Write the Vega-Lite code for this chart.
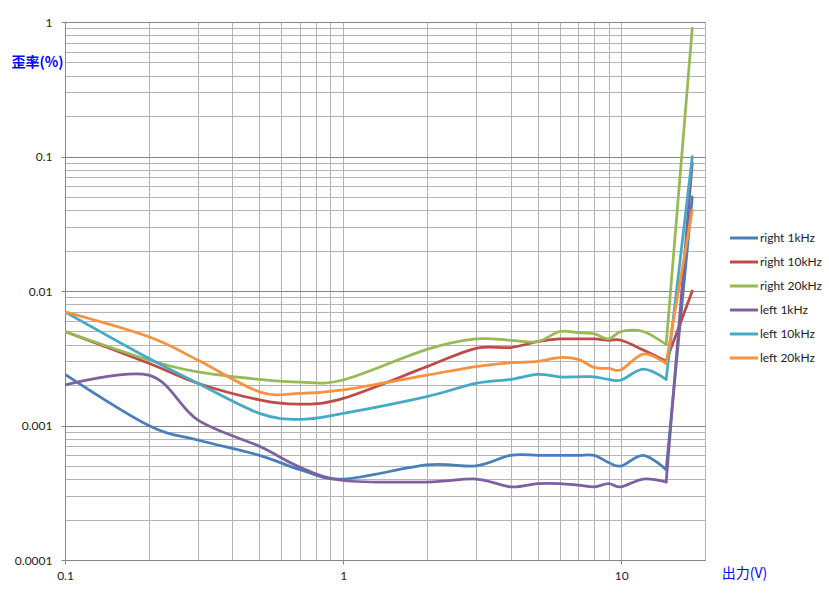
{
  "$schema": "https://vega.github.io/schema/vega-lite/v6.json",
  "width": 640,
  "height": 538,
  "autosize": {"type": "none"},
  "padding": {"left": 65, "top": 22, "right": 124, "bottom": 43},
  "background": "white",
  "config": {"view": {"stroke": null}, "font": "Lato"},
  "data": {
    "values": [
      {"ch": "right 1kHz", "V": 0.1, "THD": 0.0024},
      {"ch": "right 1kHz", "V": 0.2, "THD": 0.001},
      {"ch": "right 1kHz", "V": 0.3, "THD": 0.00078},
      {"ch": "right 1kHz", "V": 0.5, "THD": 0.0006},
      {"ch": "right 1kHz", "V": 0.7, "THD": 0.00047},
      {"ch": "right 1kHz", "V": 1, "THD": 0.0004},
      {"ch": "right 1kHz", "V": 2, "THD": 0.00051},
      {"ch": "right 1kHz", "V": 3, "THD": 0.0005},
      {"ch": "right 1kHz", "V": 4, "THD": 0.0006},
      {"ch": "right 1kHz", "V": 5, "THD": 0.0006},
      {"ch": "right 1kHz", "V": 6, "THD": 0.0006},
      {"ch": "right 1kHz", "V": 7, "THD": 0.0006},
      {"ch": "right 1kHz", "V": 8, "THD": 0.0006},
      {"ch": "right 1kHz", "V": 9, "THD": 0.00053},
      {"ch": "right 1kHz", "V": 10, "THD": 0.0005},
      {"ch": "right 1kHz", "V": 12, "THD": 0.0006},
      {"ch": "right 1kHz", "V": 14.5, "THD": 0.00047},
      {"ch": "right 1kHz", "V": 18, "THD": 0.05},

      {"ch": "right 10kHz", "V": 0.1, "THD": 0.005},
      {"ch": "right 10kHz", "V": 0.2, "THD": 0.0029},
      {"ch": "right 10kHz", "V": 0.3, "THD": 0.00206},
      {"ch": "right 10kHz", "V": 0.5, "THD": 0.00155},
      {"ch": "right 10kHz", "V": 0.7, "THD": 0.00144},
      {"ch": "right 10kHz", "V": 1, "THD": 0.00159},
      {"ch": "right 10kHz", "V": 2, "THD": 0.00274},
      {"ch": "right 10kHz", "V": 3, "THD": 0.00375},
      {"ch": "right 10kHz", "V": 4, "THD": 0.0038},
      {"ch": "right 10kHz", "V": 5, "THD": 0.0042},
      {"ch": "right 10kHz", "V": 6, "THD": 0.0044},
      {"ch": "right 10kHz", "V": 7, "THD": 0.0044},
      {"ch": "right 10kHz", "V": 8, "THD": 0.0044},
      {"ch": "right 10kHz", "V": 9, "THD": 0.0043},
      {"ch": "right 10kHz", "V": 10, "THD": 0.0043},
      {"ch": "right 10kHz", "V": 12, "THD": 0.00364},
      {"ch": "right 10kHz", "V": 14.5, "THD": 0.003},
      {"ch": "right 10kHz", "V": 18, "THD": 0.01},

      {"ch": "right 20kHz", "V": 0.1, "THD": 0.005},
      {"ch": "right 20kHz", "V": 0.2, "THD": 0.00307},
      {"ch": "right 20kHz", "V": 0.3, "THD": 0.0025},
      {"ch": "right 20kHz", "V": 0.5, "THD": 0.0022},
      {"ch": "right 20kHz", "V": 0.7, "THD": 0.0021},
      {"ch": "right 20kHz", "V": 1, "THD": 0.00218},
      {"ch": "right 20kHz", "V": 2, "THD": 0.00368},
      {"ch": "right 20kHz", "V": 3, "THD": 0.0044},
      {"ch": "right 20kHz", "V": 4, "THD": 0.0043},
      {"ch": "right 20kHz", "V": 5, "THD": 0.0042},
      {"ch": "right 20kHz", "V": 6, "THD": 0.005},
      {"ch": "right 20kHz", "V": 7, "THD": 0.0049},
      {"ch": "right 20kHz", "V": 8, "THD": 0.0048},
      {"ch": "right 20kHz", "V": 9, "THD": 0.0044},
      {"ch": "right 20kHz", "V": 10, "THD": 0.005},
      {"ch": "right 20kHz", "V": 12, "THD": 0.005},
      {"ch": "right 20kHz", "V": 14.5, "THD": 0.004},
      {"ch": "right 20kHz", "V": 18, "THD": 0.9},

      {"ch": "left 1kHz", "V": 0.1, "THD": 0.002},
      {"ch": "left 1kHz", "V": 0.2, "THD": 0.00237},
      {"ch": "left 1kHz", "V": 0.3, "THD": 0.0011},
      {"ch": "left 1kHz", "V": 0.5, "THD": 0.0007},
      {"ch": "left 1kHz", "V": 0.7, "THD": 0.00049},
      {"ch": "left 1kHz", "V": 1, "THD": 0.00039},
      {"ch": "left 1kHz", "V": 2, "THD": 0.00038},
      {"ch": "left 1kHz", "V": 3, "THD": 0.0004},
      {"ch": "left 1kHz", "V": 4, "THD": 0.00035},
      {"ch": "left 1kHz", "V": 5, "THD": 0.00037},
      {"ch": "left 1kHz", "V": 6, "THD": 0.00037},
      {"ch": "left 1kHz", "V": 7, "THD": 0.00036},
      {"ch": "left 1kHz", "V": 8, "THD": 0.00035},
      {"ch": "left 1kHz", "V": 9, "THD": 0.00037},
      {"ch": "left 1kHz", "V": 10, "THD": 0.00035},
      {"ch": "left 1kHz", "V": 12, "THD": 0.0004},
      {"ch": "left 1kHz", "V": 14.5, "THD": 0.00038},
      {"ch": "left 1kHz", "V": 18, "THD": 0.09},

      {"ch": "left 10kHz", "V": 0.1, "THD": 0.007},
      {"ch": "left 10kHz", "V": 0.2, "THD": 0.00316},
      {"ch": "left 10kHz", "V": 0.3, "THD": 0.00206},
      {"ch": "left 10kHz", "V": 0.5, "THD": 0.00123},
      {"ch": "left 10kHz", "V": 0.7, "THD": 0.00111},
      {"ch": "left 10kHz", "V": 1, "THD": 0.00123},
      {"ch": "left 10kHz", "V": 2, "THD": 0.00164},
      {"ch": "left 10kHz", "V": 3, "THD": 0.00206},
      {"ch": "left 10kHz", "V": 4, "THD": 0.0022},
      {"ch": "left 10kHz", "V": 5, "THD": 0.0024},
      {"ch": "left 10kHz", "V": 6, "THD": 0.0023},
      {"ch": "left 10kHz", "V": 7, "THD": 0.0023},
      {"ch": "left 10kHz", "V": 8, "THD": 0.0023},
      {"ch": "left 10kHz", "V": 9, "THD": 0.0022},
      {"ch": "left 10kHz", "V": 10, "THD": 0.00218},
      {"ch": "left 10kHz", "V": 12, "THD": 0.00262},
      {"ch": "left 10kHz", "V": 14.5, "THD": 0.0022},
      {"ch": "left 10kHz", "V": 18, "THD": 0.1},

      {"ch": "left 20kHz", "V": 0.1, "THD": 0.007},
      {"ch": "left 20kHz", "V": 0.2, "THD": 0.00457},
      {"ch": "left 20kHz", "V": 0.3, "THD": 0.00307},
      {"ch": "left 20kHz", "V": 0.5, "THD": 0.00178},
      {"ch": "left 20kHz", "V": 0.7, "THD": 0.00173},
      {"ch": "left 20kHz", "V": 1, "THD": 0.00184},
      {"ch": "left 20kHz", "V": 2, "THD": 0.00237},
      {"ch": "left 20kHz", "V": 3, "THD": 0.00274},
      {"ch": "left 20kHz", "V": 4, "THD": 0.00293},
      {"ch": "left 20kHz", "V": 5, "THD": 0.003},
      {"ch": "left 20kHz", "V": 6, "THD": 0.0032},
      {"ch": "left 20kHz", "V": 7, "THD": 0.0031},
      {"ch": "left 20kHz", "V": 8, "THD": 0.0027},
      {"ch": "left 20kHz", "V": 9, "THD": 0.00266},
      {"ch": "left 20kHz", "V": 10, "THD": 0.0026},
      {"ch": "left 20kHz", "V": 12, "THD": 0.0034},
      {"ch": "left 20kHz", "V": 14.5, "THD": 0.0029},
      {"ch": "left 20kHz", "V": 18, "THD": 0.04}
    ]
  },
  "encoding": {
    "x": {
      "field": "V",
      "type": "quantitative",
      "scale": {"type": "log", "domain": [0.1, 20], "nice": false},
      "axis": {
        "values": [0.1, 0.2, 0.3, 0.4, 0.5, 0.6, 0.7, 0.8, 0.9, 1, 2, 3, 4, 5, 6, 7, 8, 9, 10, 20],
        "labelExpr": "datum.value === 0.1 ? '0.1' : datum.value === 1 ? '1' : datum.value === 10 ? '10' : ''",
        "labelFlush": false,
        "labelOverlap": false,
        "labelFont": "Lato",
        "labelFontSize": 12,
        "labelColor": "#222222",
        "labelPadding": 6,
        "grid": true,
        "gridColor": "#B4B4B4",
        "gridWidth": 1,
        "domainColor": "#868686",
        "tickColor": "#868686",
        "tickSize": 4,
        "tickOpacity": {"condition": {"test": "datum.value === 0.1 || datum.value === 1 || datum.value === 10", "value": 1}, "value": 0},
        "title": "出力(V)",
        "titleFont": "Noto Sans CJK JP",
        "titleFontSize": 14,
        "titleFontWeight": "normal",
        "titleColor": "#0000FF",
        "titleAngle": 0,
        "titleAlign": "center",
        "titleBaseline": "middle",
        "titleX": 679,
        "titleY": 13
      }
    },
    "y": {
      "field": "THD",
      "type": "quantitative",
      "scale": {"type": "log", "domain": [0.0001, 1], "nice": false},
      "axis": {
        "values": [0.0001, 0.0002, 0.0003, 0.0004, 0.0005, 0.0006, 0.0007, 0.0008, 0.0009,
                   0.001, 0.002, 0.003, 0.004, 0.005, 0.006, 0.007, 0.008, 0.009,
                   0.01, 0.02, 0.03, 0.04, 0.05, 0.06, 0.07, 0.08, 0.09,
                   0.1, 0.2, 0.3, 0.4, 0.5, 0.6, 0.7, 0.8, 0.9, 1],
        "labelExpr": "datum.value === 1 ? '1' : datum.value === 0.1 ? '0.1' : datum.value === 0.01 ? '0.01' : datum.value === 0.001 ? '0.001' : datum.value === 0.0001 ? '0.0001' : ''",
        "labelFlush": false,
        "labelOverlap": false,
        "labelFont": "Lato",
        "labelFontSize": 12,
        "labelColor": "#222222",
        "labelPadding": 9,
        "grid": true,
        "gridColor": {"condition": {"test": "datum.value === 1 || datum.value === 0.1 || datum.value === 0.01 || datum.value === 0.001 || datum.value === 0.0001", "value": "#868686"}, "value": "#B4B4B4"},
        "gridWidth": 1,
        "domainColor": "#868686",
        "tickColor": "#868686",
        "tickSize": 4,
        "tickOpacity": {"condition": {"test": "datum.value === 1 || datum.value === 0.1 || datum.value === 0.01 || datum.value === 0.001 || datum.value === 0.0001", "value": 1}, "value": 0},
        "title": "歪率(%)",
        "titleFont": "Noto Sans CJK JP",
        "titleFontSize": 14,
        "titleFontWeight": "bold",
        "titleColor": "#0000FF",
        "titleAngle": 0,
        "titleAlign": "center",
        "titleBaseline": "middle",
        "titleX": -28,
        "titleY": 40
      }
    },
    "color": {
      "field": "ch",
      "type": "nominal",
      "sort": ["right 1kHz", "right 10kHz", "right 20kHz", "left 1kHz", "left 10kHz", "left 20kHz"],
      "scale": {
        "domain": ["right 1kHz", "right 10kHz", "right 20kHz", "left 1kHz", "left 10kHz", "left 20kHz"],
        "range": ["#4A7EBB", "#BE4B48", "#98B954", "#7D60A0", "#46AAC5", "#F69240"]
      },
      "legend": {
        "orient": "none",
        "legendX": 663.5,
        "legendY": 200.5,
        "title": null,
        "padding": 0,
        "symbolType": "stroke",
        "symbolSize": 784,
        "symbolStrokeWidth": 3,
        "rowPadding": 2,
        "labelOffset": 0.5,
        "labelFont": "Lato",
        "labelFontSize": 12,
        "labelColor": "#222222"
      }
    }
  },
  "layer": [
    {
      "transform": [{"filter": "datum.V <= 14.5"}],
      "mark": {"type": "line", "interpolate": "cardinal", "strokeWidth": 2.75, "strokeJoin": "round", "strokeCap": "round", "clip": true}
    },
    {
      "transform": [{"filter": "datum.V >= 14.5"}],
      "mark": {"type": "line", "interpolate": "linear", "strokeWidth": 2.75, "strokeJoin": "round", "strokeCap": "round", "clip": true}
    }
  ]
}
